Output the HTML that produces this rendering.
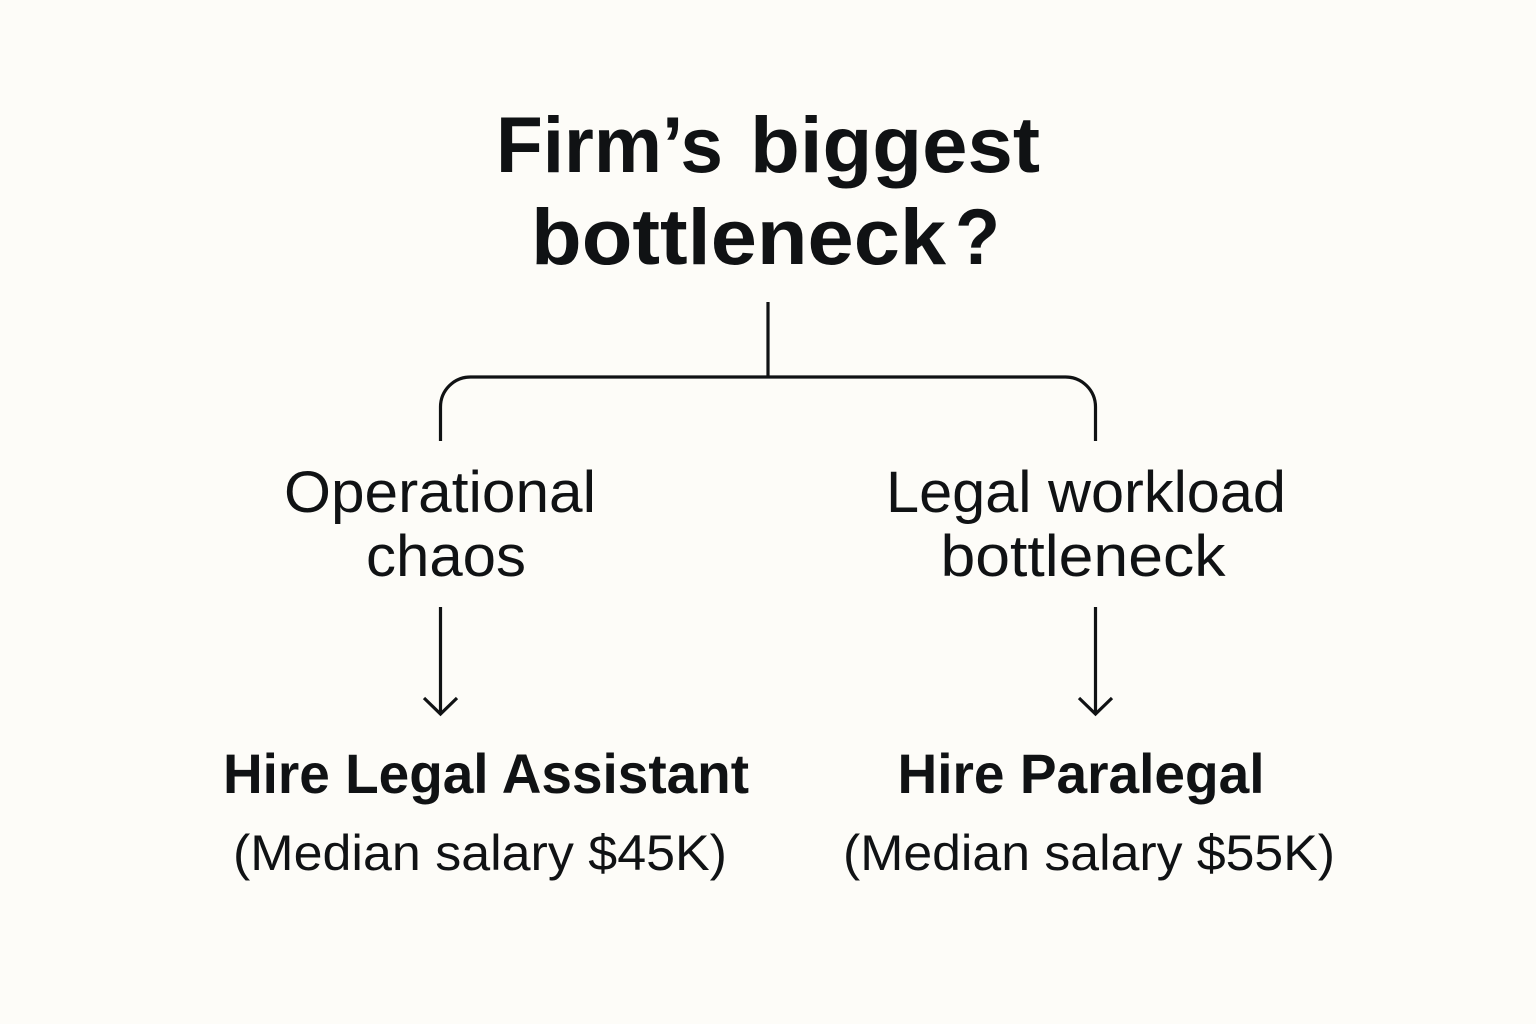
<!DOCTYPE html>
<html>
<head>
<meta charset="utf-8">
<style>
html,body{margin:0;padding:0;background:#fdfcf8;}
svg{display:block;}
text{font-family:"Liberation Sans",sans-serif;fill:#101214;}
</style>
</head>
<body>
<svg width="1536" height="1024" viewBox="0 0 1536 1024" xmlns="http://www.w3.org/2000/svg">
<rect width="1536" height="1024" fill="#fdfcf8"/>
<text x="496" y="172" font-size="79" font-weight="700" textLength="227" lengthAdjust="spacingAndGlyphs">Firm’s</text>
<text x="750" y="172" font-size="79" font-weight="700" textLength="290" lengthAdjust="spacingAndGlyphs">biggest</text>
<text x="531" y="264" font-size="79" font-weight="700" textLength="415" lengthAdjust="spacingAndGlyphs">bottleneck</text>
<text x="955" y="264" font-size="79" font-weight="700" textLength="45" lengthAdjust="spacingAndGlyphs">?</text>
<g fill="none" stroke="#101214" stroke-width="3.2">
<path d="M768 302V377"/>
<path d="M440.500 441V407A30 30 0 0 1 470.500 377H1065.500A30 30 0 0 1 1095.500 407V441"/>
<path d="M440.500 607V714M424 698L440.500 714L457 698"/>
<path d="M1095.500 607V714M1079 698L1095.500 714L1112 698"/>
</g>
<text x="440" y="512" text-anchor="middle" font-size="58" textLength="312" lengthAdjust="spacingAndGlyphs">Operational</text>
<text x="446" y="576" text-anchor="middle" font-size="58" textLength="160" lengthAdjust="spacingAndGlyphs">chaos</text>
<text x="1086" y="512" text-anchor="middle" font-size="58" textLength="400" lengthAdjust="spacingAndGlyphs">Legal workload</text>
<text x="1083" y="576" text-anchor="middle" font-size="58" textLength="285" lengthAdjust="spacingAndGlyphs">bottleneck</text>
<text x="486" y="793" text-anchor="middle" font-size="56" font-weight="700" textLength="526" lengthAdjust="spacingAndGlyphs">Hire Legal Assistant</text>
<text x="1081" y="793" text-anchor="middle" font-size="56" font-weight="700" textLength="367" lengthAdjust="spacingAndGlyphs">Hire Paralegal</text>
<text x="480" y="870" text-anchor="middle" font-size="50" textLength="494" lengthAdjust="spacingAndGlyphs">(Median salary $45K)</text>
<text x="1089" y="870" text-anchor="middle" font-size="50" textLength="492" lengthAdjust="spacingAndGlyphs">(Median salary $55K)</text>
</svg>
</body>
</html>
